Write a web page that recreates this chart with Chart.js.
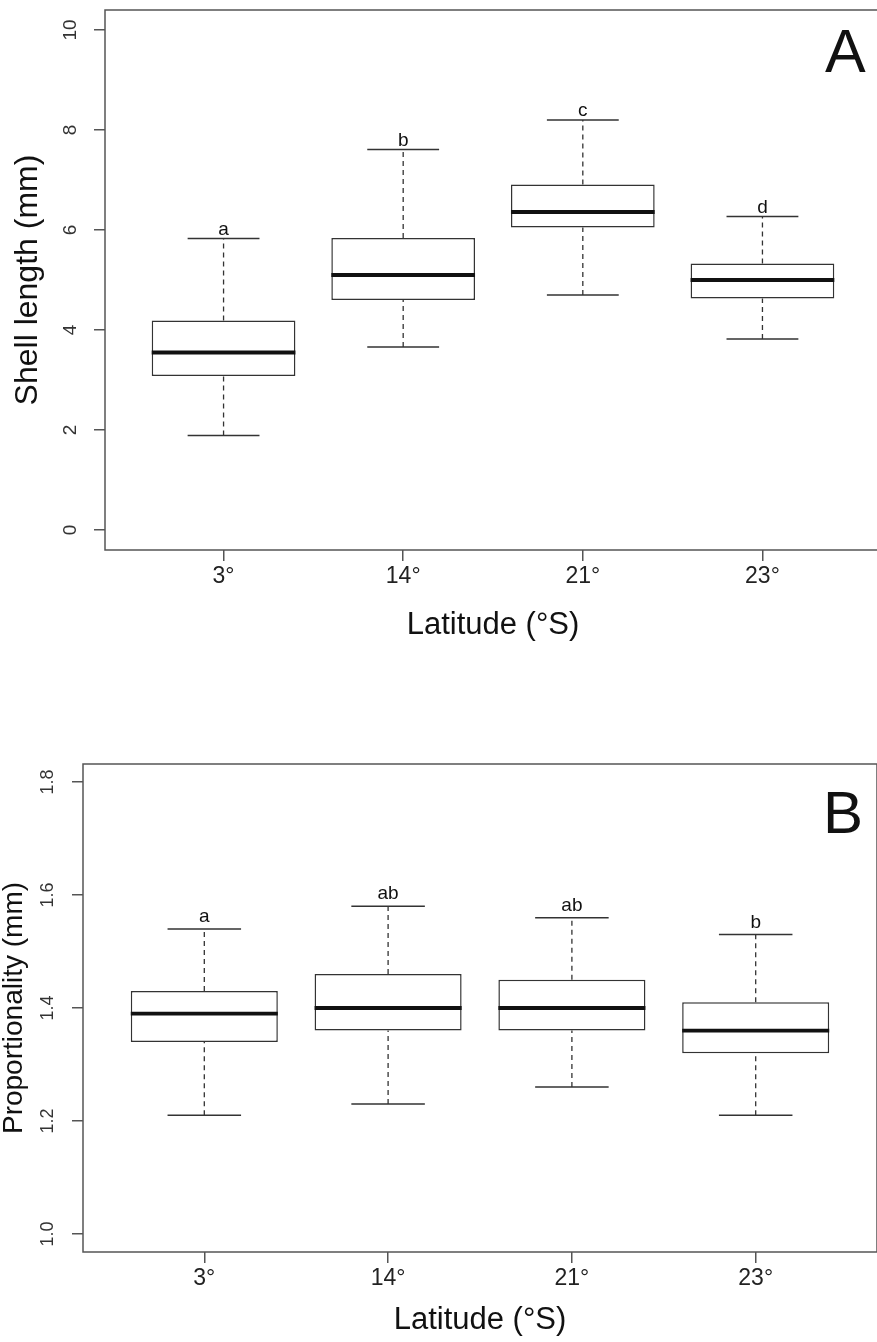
<!DOCTYPE html>
<html>
<head>
<meta charset="utf-8">
<script src="https://cdn.jsdelivr.net/npm/chart.js@4/dist/chart.umd.min.js"></script>
<style>
  html, body { margin: 0; padding: 0; background: #fff; overflow: hidden; }
  .panel { position: absolute; left: 0; }
  #wrapA { top: 0; width: 884px; height: 644px; }
  #wrapB { top: 700px; width: 878px; height: 639px; }
</style>
</head>
<body>
<div class="panel" id="wrapA"><canvas id="chartA"></canvas></div>
<div class="panel" id="wrapB"><canvas id="chartB"></canvas></div>
<script>
const categories = ['3°', '14°', '21°', '23°'];

// panel A - shell length (mm)
const shellMin    = [1.89, 3.66, 4.70, 3.82];
const shellQ1     = [3.08, 4.60, 6.05, 4.63];
const shellMedian = [3.55, 5.10, 6.36, 5.00];
const shellQ3     = [4.19, 5.84, 6.91, 5.33];
const shellMax    = [5.83, 7.61, 8.20, 6.27];
const shellLetters = ['a', 'b', 'c', 'd'];
const shellTicks = [0, 2, 4, 6, 8, 10];

// panel B - proportionality
const propMin    = [1.21, 1.23, 1.26, 1.21];
const propQ1     = [1.34, 1.36, 1.36, 1.32];
const propMedian = [1.39, 1.40, 1.40, 1.36];
const propQ3     = [1.43, 1.46, 1.45, 1.41];
const propMax    = [1.54, 1.58, 1.56, 1.53];
const propLetters = ['a', 'ab', 'ab', 'b'];
const propTicks = [1.0, 1.2, 1.4, 1.6, 1.8];

const FONT = '"Liberation Sans", Arial, Helvetica, sans-serif';
const AXIS_GREY = '#555';
const LINE_DARK = '#333';

// frame, letters over whiskers, panel label
const boxExtras = {
  id: 'boxExtras',
  afterDatasetsDraw(chart, args, opts) {
    const {ctx, chartArea: a, scales: {x, y}} = chart;
    ctx.save();
    ctx.strokeStyle = AXIS_GREY;
    ctx.lineWidth = 1.5;
    ctx.strokeRect(a.left, a.top, a.right - a.left, a.bottom - a.top);

    ctx.fillStyle = '#111';
    ctx.font = '19px ' + FONT;
    ctx.textAlign = 'center';
    ctx.textBaseline = 'alphabetic';
    opts.letters.forEach((t, i) => {
      ctx.fillText(t, x.getPixelForValue(i), y.getPixelForValue(opts.tops[i]) - opts.gap);
    });

    ctx.font = opts.panelSize + 'px ' + FONT;
    ctx.textAlign = 'left';
    ctx.fillText(opts.panel, a.right - opts.panelDx, a.top + opts.panelDy);
    ctx.restore();
  }
};

function makeConfig(s) {
  const whiskers = [];
  const caps = [];
  const medians = [];
  for (let i = 0; i < categories.length; i++) {
    whiskers.push({x: i, y: s.q3[i]}, {x: i, y: s.max[i]}, {x: i, y: null});
    whiskers.push({x: i, y: s.min[i]}, {x: i, y: s.q1[i]}, {x: i, y: null});
    caps.push({x: i - 0.2, y: s.max[i]}, {x: i + 0.2, y: s.max[i]}, {x: i, y: null});
    caps.push({x: i - 0.2, y: s.min[i]}, {x: i + 0.2, y: s.min[i]}, {x: i, y: null});
    medians.push({x: i - 0.4, y: s.median[i]}, {x: i + 0.4, y: s.median[i]}, {x: i, y: null});
  }
  const boxes = categories.map((c, i) => ({x: i, y: [s.q1[i], s.q3[i]]}));

  return {
    type: 'bar',
    data: {
      datasets: [
        {
          type: 'line', data: whiskers, order: 4,
          borderColor: LINE_DARK, borderWidth: 1.3, borderDash: [5, 4],
          pointRadius: 0, spanGaps: false, fill: false
        },
        {
          type: 'line', data: caps, order: 3,
          borderColor: LINE_DARK, borderWidth: 1.5,
          pointRadius: 0, spanGaps: false, fill: false
        },
        {
          type: 'bar', data: boxes, order: 2,
          backgroundColor: '#fff', borderColor: LINE_DARK, borderWidth: 1.5,
          borderSkipped: false, barPercentage: 1, categoryPercentage: 0.8
        },
        {
          type: 'line', data: medians, order: 1,
          borderColor: '#111', borderWidth: 3.8,
          pointRadius: 0, spanGaps: false, fill: false
        }
      ]
    },
    options: {
      responsive: true,
      maintainAspectRatio: false,
      animation: false,
      layout: { padding: s.padding },
      plugins: {
        legend: { display: false },
        tooltip: { enabled: false },
        boxExtras: {
          letters: s.letters, tops: s.max, gap: s.gap,
          panel: s.panel, panelSize: s.panelSize, panelDx: s.panelDx, panelDy: s.panelDy
        }
      },
      scales: {
        x: {
          type: 'linear',
          min: -0.66,
          max: 3.66,
          offset: false,
          afterBuildTicks: (sc) => { sc.ticks = categories.map((c, i) => ({value: i})); },
          afterFit: (sc) => { sc.height = s.xHeight; sc.paddingLeft = 0; sc.paddingRight = 0; },
          ticks: {
            callback: (v) => categories[v],
            color: '#222',
            font: { family: FONT, size: 23 },
            padding: 2,
            maxRotation: 0
          },
          grid: { display: true, offset: false, drawOnChartArea: false, drawTicks: true, tickLength: 11, color: AXIS_GREY, lineWidth: 1.5 },
          border: { display: false },
          title: {
            display: true,
            text: 'Latitude (°S)',
            color: '#111',
            font: { family: FONT, size: 31, lineHeight: 1.2 },
            padding: 0
          }
        },
        y: {
          type: 'linear',
          min: s.yMin,
          max: s.yMax,
          afterBuildTicks: (sc) => { sc.ticks = s.ticks.map((v) => ({value: v})); },
          afterFit: (sc) => { sc.width = s.yWidth; sc.paddingTop = 0; sc.paddingBottom = 0; },
          ticks: {
            callback: s.tickFmt,
            color: '#333',
            font: { family: FONT, size: s.yTickSize },
            padding: s.yTickPad,
            minRotation: 90,
            maxRotation: 90,
            crossAlign: 'center'
          },
          grid: { display: true, drawOnChartArea: false, drawTicks: true, tickLength: 11, color: AXIS_GREY, lineWidth: 1.5 },
          border: { display: false },
          title: {
            display: true,
            text: s.yTitle,
            color: '#111',
            font: { family: FONT, size: s.yTitleSize, lineHeight: 1 },
            padding: { top: s.yTitlePad, bottom: 0 }
          }
        }
      }
    },
    plugins: [boxExtras]
  };
}

const chartA = new Chart(document.getElementById('chartA'), makeConfig({
  min: shellMin, q1: shellQ1, median: shellMedian, q3: shellQ3, max: shellMax,
  letters: shellLetters, ticks: shellTicks, gap: 4,
  yMin: -0.4, yMax: 10.4, tickFmt: (v) => String(v),
  yTitle: 'Shell length (mm)', yTitleSize: 32, yTitlePad: 12,
  yTickSize: 19, yTickPad: 13,
  yWidth: 105, xHeight: 94,
  padding: { top: 10, right: 3, bottom: 0, left: 0 },
  panel: 'A', panelSize: 61, panelDx: 56, panelDy: 62
}));

const chartB = new Chart(document.getElementById('chartB'), makeConfig({
  min: propMin, q1: propQ1, median: propMedian, q3: propQ3, max: propMax,
  letters: propLetters, ticks: propTicks, gap: 7,
  yMin: 0.968, yMax: 1.832, tickFmt: (v) => v.toFixed(1),
  yTitle: 'Proportionality (mm)', yTitleSize: 28, yTitlePad: 0,
  yTickSize: 18, yTickPad: 11,
  yWidth: 83, xHeight: 87,
  padding: { top: 64, right: 1, bottom: 0, left: 0 },
  panel: 'B', panelSize: 60, panelDx: 54, panelDy: 69
}));
</script>
</body>
</html>
